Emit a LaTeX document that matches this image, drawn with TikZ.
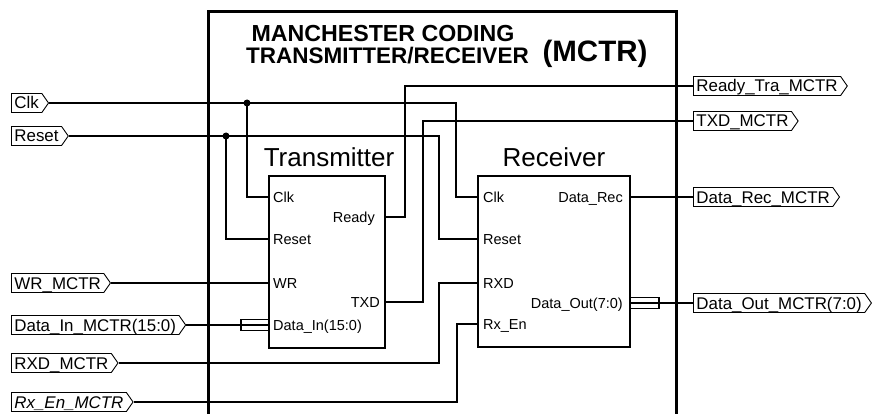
\documentclass[tikz,border=0pt]{standalone}
\usepackage{fontspec}
\setmainfont{Liberation Sans}
\usetikzlibrary{shapes.symbols}
\begin{document}
\begin{tikzpicture}[x=1pt,y=-1pt,
  wire/.style={line width=1.4pt},
  frame/.style={line width=3pt},
  blk/.style={draw, line width=2pt, inner sep=0pt},
  bus/.style={draw, line width=1.1pt, inner sep=0pt, minimum height=11pt},
  tag/.style={signal, signal to=east, signal pointer angle=110, draw, line width=0.9pt, fill=white,
    minimum height=19pt, inner xsep=3pt, inner ysep=0pt, text height=12pt, text depth=0pt,
    font=\fontsize{16.9}{18}\selectfont, anchor=west},
  pinlbl/.style={inner sep=0pt, text height=10.4pt, text depth=0pt, font=\fontsize{14.5}{16}\selectfont},
  dotn/.style={circle, fill, inner sep=0pt, minimum size=7pt},
  ]
\useasboundingbox (0,0) rectangle (874,414);

% blocks
\node[blk, minimum width=116pt, minimum height=172pt] (T) at (327,262) {};
\node[blk, minimum width=152pt, minimum height=171pt] (R) at (554,261.5) {};

% pins
\coordinate (tclk) at (269,197);
\coordinate (trst) at (269,239);
\coordinate (twr)  at (269,283);
\coordinate (tdin) at (269,325);
\coordinate (trdy) at (385,217);
\coordinate (ttxd) at (385,302);
\coordinate (rclk) at (478,197);
\coordinate (rrst) at (478,239);
\coordinate (rrxd) at (478,283);
\coordinate (rrxen) at (478,324);
\coordinate (rdrec) at (630,197);
\coordinate (rdout) at (630,303);
\coordinate (dclk) at (247,103);
\coordinate (drst) at (226,136);

% tags left
\node[tag] (clkT)  at (11,103) {Clk};
\node[tag] (rstT)  at (11,136) {Reset};
\node[tag] (wrT)   at (11,283) {WR\_MCTR};
\node[tag] (dinT)  at (11,325) {Data\_In\_MCTR(15:0)};
\node[tag] (rxdT)  at (11,363) {RXD\_MCTR};
\node[tag] (rxenT) at (11,402) {\itshape Rx\_En\_MCTR};
% tags right
\node[tag] (rdyT)  at (693,86)  {Ready\_Tra\_MCTR};
\node[tag] (txdT)  at (693,121) {TXD\_MCTR};
\node[tag] (drecT) at (693,197) {Data\_Rec\_MCTR};
\node[tag] (doutT) at (693,303) {Data\_Out\_MCTR(7:0)};

% bus symbols
\node[bus, minimum width=28pt] (busin) at (255,325) {};
\node[bus, minimum width=29pt] (busout) at (644.5,303) {};

% wires
\draw[wire] (clkT.east) -| (456,197) -- (rclk);
\draw[wire] (rstT.east) -| (439,239) -- (rrst);
\draw[wire] (dclk) |- (tclk);
\draw[wire] (drst) |- (trst);
\draw[wire] (wrT.east) -- (twr);
\draw[wire] (dinT.east) -- (tdin);
\draw[wire] (trdy) -| (405,86) -- (rdyT.west);
\draw[wire] (ttxd) -| (423,121) -- (txdT.west);
\draw[wire] (rdrec) -- (drecT.west);
\draw[wire] (rdout) -- (doutT.west);
\draw[wire] (rxdT.east) -| (439,283) -- (rrxd);
\draw[wire] (rxenT.east) -| (457,324) -- (rrxen);
\node[dotn] (dc) at (dclk) {};
\node[dotn] (dr) at (drst) {};

% outer frame
\draw[frame] (208,416) -- (208,12) -- (676,12) -- (676,416);

% titles
\node[font=\bfseries\fontsize{23.2}{25}\selectfont, anchor=base, inner sep=0pt] (h1) at (383,42) {MANCHESTER CODING};
\node[font=\bfseries\fontsize{22.5}{25}\selectfont, anchor=base, inner sep=0pt] (h2) at (387.5,64) {TRANSMITTER/RECEIVER};
\node[font=\bfseries\fontsize{29.5}{30}\selectfont, anchor=base, inner sep=0pt] (h3) at (595,62) {(MCTR)};
\node[font=\fontsize{26}{30}\selectfont, anchor=base, inner sep=0pt] (ttl) at (329,167) {Transmitter};
\node[font=\fontsize{26}{30}\selectfont, anchor=base, inner sep=0pt] (rtl) at (554,167) {Receiver};

% pin labels
\node[pinlbl, anchor=west] (l1) at (273,197) {Clk};
\node[pinlbl, anchor=west] (l2) at (273,239) {Reset};
\node[pinlbl, anchor=west] (l3) at (273,283) {WR};
\node[pinlbl, anchor=west] (l4) at (273,325) {Data\_In(15:0)};
\node[pinlbl, anchor=east] (l5) at (375,217) {Ready};
\node[pinlbl, anchor=east] (l6) at (380,302) {TXD};
\node[pinlbl, anchor=west] (l7) at (483,197) {Clk};
\node[pinlbl, anchor=west] (l8) at (483,239) {Reset};
\node[pinlbl, anchor=west] (l9) at (483,283) {RXD};
\node[pinlbl, anchor=west] (l10) at (483,324) {Rx\_En};
\node[pinlbl, anchor=east] (l11) at (623,197) {Data\_Rec};
\node[pinlbl, anchor=east] (l12) at (623,303) {Data\_Out(7:0)};
\end{tikzpicture}
\end{document}
